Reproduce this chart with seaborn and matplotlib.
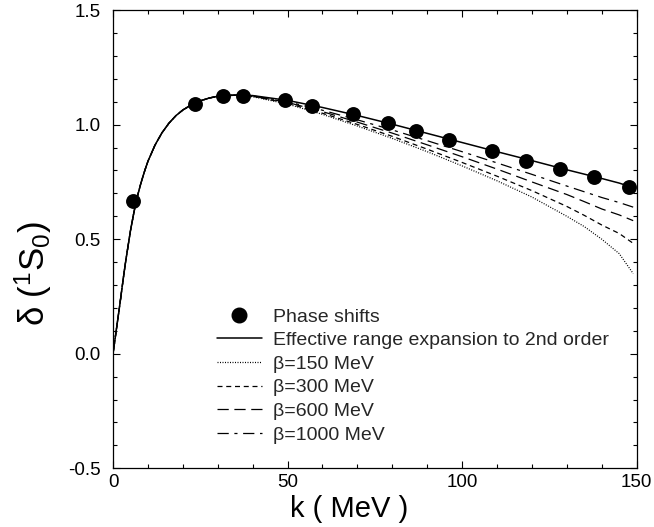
import numpy as np
import pandas as pd
import matplotlib
matplotlib.use("Agg")
import matplotlib.pyplot as plt
import seaborn as sns
from matplotlib.lines import Line2D
from matplotlib.legend_handler import HandlerLine2D
from matplotlib.ticker import MultipleLocator, FormatStrFormatter

# ---------------- data ----------------
# phase shift points
k_pts = [5.8, 23.5, 31.4, 37.3, 49.3, 57.0, 68.8, 78.7, 86.7, 96.3,
         108.5, 118.2, 128.0, 137.9, 147.7]
delta_pts = [0.668, 1.090, 1.126, 1.126, 1.107, 1.082, 1.045, 1.008, 0.973, 0.932,
             0.887, 0.842, 0.805, 0.770, 0.729]

# low-k part (all curves coincide)
k_low = [0, 0.5, 1, 1.5, 2, 2.5, 3, 3.5, 4, 5, 6, 7, 8, 9, 10, 12, 14, 16, 18, 20,
         22.5, 25, 27.5, 30, 35]
d_low = [0, 0.055, 0.11, 0.165, 0.22, 0.278, 0.335, 0.39, 0.44, 0.537, 0.618, 0.688,
         0.745, 0.795, 0.84, 0.91, 0.964, 1.006, 1.039, 1.064, 1.087, 1.104, 1.116,
         1.124, 1.129]

# high-k part
k_high = [40, 50, 60, 70, 80, 90, 100, 110, 120, 130, 135, 140, 145, 149]
d_ere = [1.127, 1.106, 1.075, 1.040, 1.002, 0.962, 0.922, 0.882, 0.843, 0.803, 0.784, 0.765, 0.745, 0.725]
d_b150 = [1.122, 1.090, 1.045, 0.994, 0.940, 0.882, 0.820, 0.755, 0.684, 0.600, 0.555, 0.500, 0.437, 0.350]
d_b300 = [1.124, 1.093, 1.050, 1.001, 0.949, 0.893, 0.835, 0.775, 0.712, 0.643, 0.604, 0.562, 0.525, 0.482]
d_b600 = [1.125, 1.097, 1.057, 1.011, 0.963, 0.912, 0.860, 0.806, 0.750, 0.695, 0.664, 0.632, 0.606, 0.581]
d_b1000 = [1.126, 1.100, 1.063, 1.021, 0.977, 0.930, 0.882, 0.833, 0.783, 0.732, 0.707, 0.682, 0.660, 0.640]

labels = ["Effective range expansion to 2nd order", "\u03b2=150 MeV", "\u03b2=300 MeV",
          "\u03b2=600 MeV", "\u03b2=1000 MeV"]

# ---------------- style ----------------
sns.set_theme(style="ticks")
plt.rcParams['font.family'] = ['Liberation Sans', 'DejaVu Sans']
plt.rcParams['mathtext.default'] = 'regular'
plt.rcParams['axes.unicode_minus'] = False

fig = plt.figure(figsize=(6.54, 5.27), dpi=100)
ax = fig.add_axes([0.1728, 0.1114, 0.8007, 0.8694])

k_all = k_low + k_high
series = [d_ere, d_b150, d_b300, d_b600, d_b1000]
styles = [
    dict(linestyle='-', linewidth=1.1),
    dict(linestyle=(0, (0.8, 1.2)), linewidth=0.9),
    dict(linestyle=(0, (4, 3)), linewidth=0.9),
    dict(linestyle=(0, (9, 4.5)), linewidth=0.9),
    dict(linestyle=(0, (9, 4.5, 2.5, 4.5)), linewidth=0.9),
]
for vals, st in zip(series[::-1], styles[::-1]):
    df = pd.DataFrame({"k": k_all, "d": d_low + vals})
    sns.lineplot(data=df, x="k", y="d", ax=ax, color='black', sort=False,
                 estimator=None, **st)
handles = [Line2D([], [], color='black', label=lab, **st) for st, lab in zip(styles, labels)]

pts = pd.DataFrame({"k": k_pts, "d": delta_pts})
sns.scatterplot(data=pts, x="k", y="d", ax=ax, color='black', s=115,
                edgecolor='black', linewidth=0, zorder=5)

marker_handle = Line2D([], [], color='black', marker='o', linestyle='none',
                       markersize=10.5, label="Phase shifts")


class RightMarker(HandlerLine2D):
    def get_xdata(self, legend, xdescent, ydescent, width, height, fontsize):
        xdata, xm = super().get_xdata(legend, xdescent, ydescent, width, height, fontsize)
        return xdata, np.array([-xdescent + width * 0.93])


leg = ax.legend(handles=[marker_handle] + handles, loc='upper left',
                bbox_to_anchor=(0.1986, 0.35), frameon=False, fontsize=14,
                handlelength=2.3, handletextpad=0.6, labelspacing=0.31,
                borderpad=0, borderaxespad=0,
                handler_map={marker_handle: RightMarker(numpoints=1)})

ax.set_xlim(0, 150)
ax.set_ylim(-0.5, 1.5)
ax.xaxis.set_major_locator(MultipleLocator(50))
ax.xaxis.set_minor_locator(MultipleLocator(10))
ax.yaxis.set_major_locator(MultipleLocator(0.5))
ax.yaxis.set_minor_locator(MultipleLocator(0.1))
ax.yaxis.set_major_formatter(FormatStrFormatter('%.1f'))
ax.tick_params(which='both', direction='in', top=True, right=True, color='black',
               width=0.8, labelsize=13.5, labelcolor='black')
ax.tick_params(which='major', length=5)
ax.tick_params(which='minor', length=3)
ax.tick_params(axis='y', which='major', pad=9)
ax.tick_params(axis='x', which='major', pad=4)
for sp in ax.spines.values():
    sp.set_color('black')
    sp.set_linewidth(0.9)

ax.set_xlabel("k ( MeV )", fontsize=21, color='black')
ax.set_ylabel(r"δ ($^{1}$S$_{0}$)", fontsize=25, color='black')
ax.xaxis.set_label_coords(0.45, -0.058)
ax.yaxis.set_label_coords(-0.113, 0.424)

fig.savefig("out.png", dpi=100)
